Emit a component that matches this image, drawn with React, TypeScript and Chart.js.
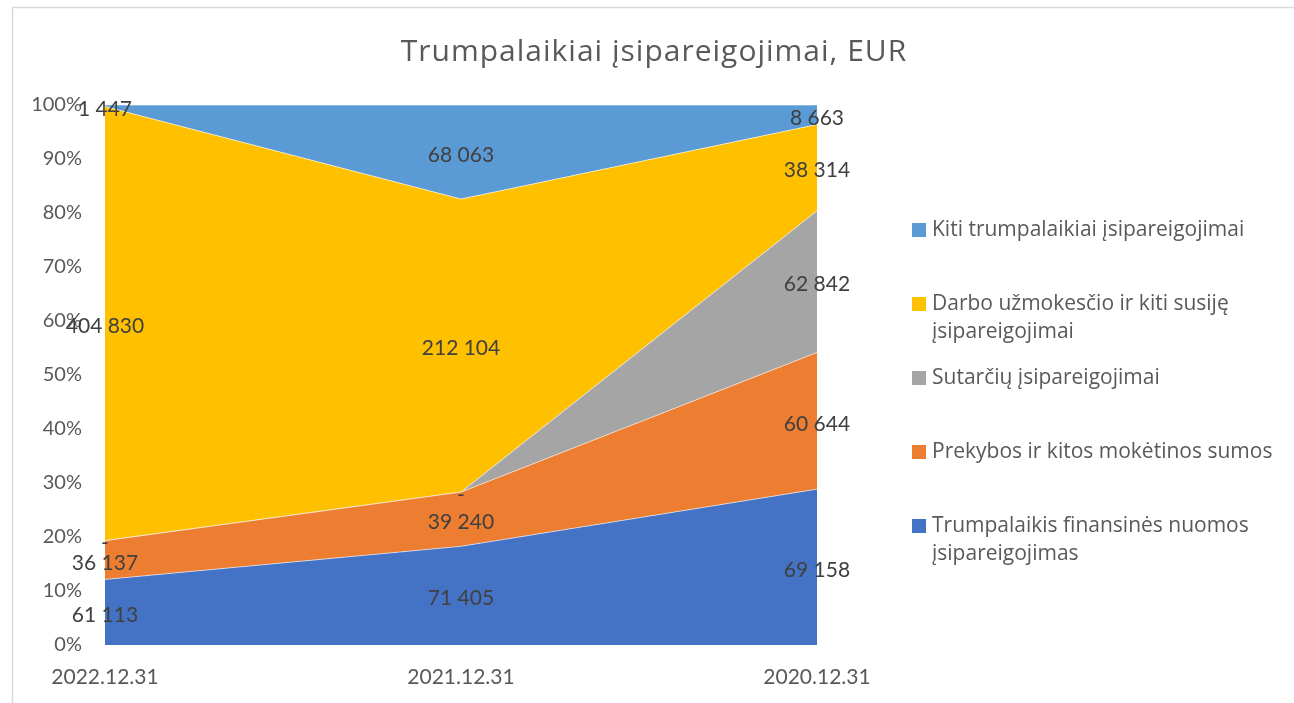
import React, { useEffect, useRef } from "react";
import { Chart, registerables } from "chart.js";

Chart.register(...registerables);

const categories = ["2022.12.31", "2021.12.31", "2020.12.31"];

const seriesNames = [
  "Trumpalaikis finansinės nuomos įsipareigojimas",
  "Prekybos ir kitos mokėtinos sumos",
  "Sutarčių įsipareigojimai",
  "Darbo užmokesčio ir kiti susiję įsipareigojimai",
  "Kiti trumpalaikiai įsipareigojimai",
];

const finansinesNuomos = [61113, 71405, 69158];
const prekybosSumos = [36137, 39240, 60644];
const sutarciu = [0, 0, 62842];
const darboUzmokescio = [404830, 212104, 38314];
const kitiTrumpalaikiai = [1447, 68063, 8663];

const seriesValues = [finansinesNuomos, prekybosSumos, sutarciu, darboUzmokescio, kitiTrumpalaikiai];

const seriesColors = ["#4472C4", "#ED7D31", "#A5A5A5", "#FFC000", "#5B9BD5"];

// Legend text lines (top to bottom, reversed series order)
const legendLines = [
  ["Kiti trumpalaikiai įsipareigojimai"],
  ["Darbo užmokesčio ir kiti susiję", "įsipareigojimai"],
  ["Sutarčių įsipareigojimai"],
  ["Prekybos ir kitos mokėtinos sumos"],
  ["Trumpalaikis finansinės nuomos", "įsipareigojimas"],
];
const legendSeriesIndex = [4, 3, 2, 1, 0];

const titleText = "Trumpalaikiai įsipareigojimai, EUR";
const yTicks = [0, 10, 20, 30, 40, 50, 60, 70, 80, 90, 100];

const FONT = "Lato, 'Open Sans', sans-serif";
const WIDE_FONT = "'Open Sans', Lato, sans-serif";

const totals = categories.map((_, i) => seriesValues.reduce((s, arr) => s + arr[i], 0));
const percentSeries = seriesValues.map((arr) => arr.map((v, i) => (v / totals[i]) * 100));

const fmt = (v: number) => (v === 0 ? "-" : String(v).replace(/\B(?=(\d{3})+(?!\d))/g, " "));

const decorPlugin = {
  id: "decor",
  beforeDraw(chart: any) {
    const ctx = chart.ctx;
    ctx.save();
    ctx.fillStyle = "#ffffff";
    ctx.fillRect(0, 0, chart.width, chart.height);
    ctx.strokeStyle = "#d9d9d9";
    ctx.lineWidth = 1.5;
    ctx.beginPath();
    ctx.moveTo(12.5, chart.height);
    ctx.lineTo(12.5, 7.5);
    ctx.lineTo(chart.width, 7.5);
    ctx.stroke();
    ctx.restore();
  },
  afterDraw(chart: any) {
    const ctx = chart.ctx;
    const xs = chart.scales.x;
    const ys = chart.scales.y;
    ctx.save();
    // title
    ctx.fillStyle = "#595959";
    ctx.font = `30px ${WIDE_FONT}`;
    ctx.textAlign = "center";
    ctx.textBaseline = "middle";
    try {
      (ctx as any).letterSpacing = "1px";
    } catch (e) {}
    ctx.fillText(titleText, 654, 52);
    try {
      (ctx as any).letterSpacing = "0px";
    } catch (e) {}

    // data labels
    ctx.fillStyle = "#404040";
    ctx.font = `21px ${FONT}`;
    for (let i = 0; i < categories.length; i++) {
      let base = 0;
      const x = xs.getPixelForValue(i);
      for (let d = 0; d < percentSeries.length; d++) {
        const p = percentSeries[d][i];
        const mid = base + p / 2;
        const y = ys.getPixelForValue(mid) + 3;
        ctx.fillText(fmt(seriesValues[d][i]), x, y);
        base += p;
      }
    }

    // legend
    const itemY = [230, 304, 378, 452, 526];
    ctx.font = `21px ${WIDE_FONT}`;
    ctx.textAlign = "left";
    for (let k = 0; k < legendLines.length; k++) {
      const si = legendSeriesIndex[k];
      ctx.fillStyle = seriesColors[si];
      ctx.fillRect(912, itemY[k] - 7, 14, 14);
      ctx.fillStyle = "#595959";
      legendLines[k].forEach((line, li) => {
        ctx.fillText(line, 932, itemY[k] + li * 28.5);
      });
    }
    ctx.restore();
  },
};

export default function App() {
  const ref = useRef<HTMLCanvasElement | null>(null);
  useEffect(() => {
    if (!ref.current) return;
    const chart = new Chart(ref.current, {
      type: "line",
      data: {
        labels: categories,
        datasets: percentSeries.map((vals, d) => ({
          label: seriesNames[d],
          data: vals,
          backgroundColor: seriesColors[d],
          borderColor: "rgba(255,255,255,0.6)",
          borderWidth: 1,
          pointRadius: 0,
          pointHoverRadius: 0,
          fill: d === 0 ? "origin" : "-1",
          tension: 0,
        })),
      },
      options: {
        animation: false,
        responsive: false,
        devicePixelRatio: 1,
        layout: { padding: { left: 0, top: 105, right: 477, bottom: 0 } },
        plugins: {
          legend: { display: false },
          title: { display: false },
          tooltip: { enabled: false },
        },
        scales: {
          x: {
            type: "category",
            offset: false,
            grid: { display: false, drawTicks: false },
            border: { display: false },
            ticks: {
              color: "#595959",
              font: { family: FONT, size: 21 },
              padding: 20,
              maxRotation: 0,
              autoSkip: false,
            },
            afterFit: (s: any) => {
              s.height = 58;
            },
          },
          y: {
            stacked: true,
            min: 0,
            max: 100,
            grid: { display: false, drawTicks: false },
            border: { display: false },
            afterBuildTicks: (s: any) => {
              s.ticks = yTicks.map((v) => ({ value: v }));
            },
            ticks: {
              color: "#595959",
              font: { family: FONT, size: 20 },
              padding: 23,
              callback: (v: any) => `${v}%`,
            },
            afterFit: (s: any) => {
              s.width = 105;
            },
          },
        },
      },
      plugins: [decorPlugin],
    } as any);
    return () => chart.destroy();
  }, []);
  return (
    <div style={{ position: "fixed", left: 0, top: 0, width: 1294, height: 703, background: "#fff" }}>
      <canvas ref={ref} width={1294} height={703} style={{ display: "block" }} />
    </div>
  );
}
